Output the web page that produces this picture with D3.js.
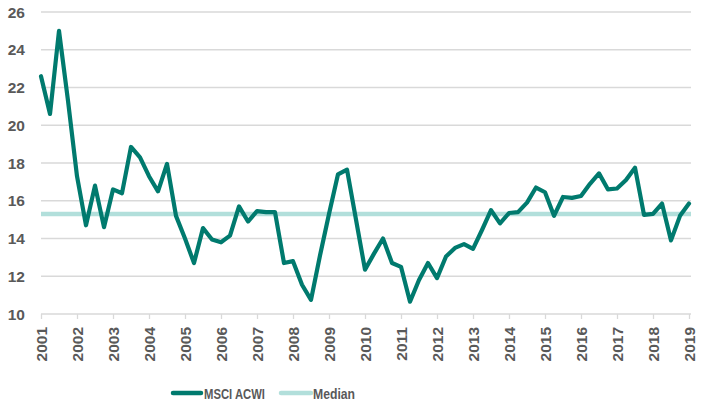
<!DOCTYPE html>
<html><head><meta charset="utf-8">
<script src="https://cdn.jsdelivr.net/npm/d3@7"></script>
<style>
html,body{margin:0;padding:0;background:#fff;}
svg{display:block;font-family:"Liberation Sans",Arial,sans-serif;}
</style></head>
<body><div id="chart"></div>
<script>
const years = [2001,2002,2003,2004,2005,2006,2007,2008,2009,2010,2011,2012,2013,2014,2015,2016,2017,2018,2019];
const yTicks = [10,12,14,16,18,20,22,24,26];
const seriesNames = ["MSCI ACWI","Median"];
// Quarterly values, 2001 Q1 .. 2019 Q1
const msciAcwi = [
 22.6,20.6,25.0,21.3,17.3,14.7,16.8,14.6,16.6,16.4,
 18.85,18.3,17.3,16.5,17.95,15.2,14.0,12.7,14.55,13.95,
 13.8,14.15,15.7,14.9,15.45,15.4,15.4,12.7,12.8,11.55,
 10.75,13.1,15.3,17.4,17.65,15.0,12.35,13.2,14.0,12.7,
 12.5,10.65,11.8,12.7,11.9,13.05,13.5,13.7,13.45,14.45,
 15.5,14.8,15.35,15.4,15.9,16.7,16.45,15.2,16.2,16.15,
 16.25,16.9,17.45,16.6,16.65,17.1,17.75,15.25,15.3,15.85,
 13.9,15.2,15.85
];
const medianValue = 15.3;

const W = 706, H = 411;
const svg = d3.select("#chart").append("svg").attr("width", W).attr("height", H);

const startYear = years[0], endYear = years[years.length-1];
const x = d3.scaleLinear().domain([startYear, endYear]).range([41, 689]);
const y = d3.scaleLinear().domain([10, 26]).range([314, 12]);
const xOf = i => x(startYear + i/4);

const textColor = "#595959", gridColor = "#d9d9d9";
const lineColor = "#007A6E", medianColor = "#B2DFDB";

// gridlines
svg.append("g").selectAll("line").data(yTicks.filter(t => t !== 10)).join("line")
  .attr("x1", 41).attr("x2", 691)
  .attr("y1", d => y(d)).attr("y2", d => y(d))
  .attr("stroke", gridColor).attr("stroke-width", 1.3);

// y labels
svg.append("g").selectAll("text").data(yTicks).join("text")
  .attr("x", 25).attr("y", d => y(d)).attr("dy", "0.36em")
  .attr("text-anchor", "end").attr("fill", textColor)
  .attr("font-size", 15.5).attr("font-weight", "bold")
  .text(d => d);

// x axis
const xAxis = d3.axisBottom(x).tickValues(years).tickFormat(d3.format("d")).tickSize(5).tickSizeOuter(0);
const gx = svg.append("g").attr("transform", `translate(0,${y(10)})`).call(xAxis);
gx.select(".domain").attr("stroke", gridColor).attr("stroke-width", 1.3).attr("d", `M41,0H691`);
gx.selectAll(".tick line").attr("stroke", gridColor).attr("stroke-width", 1.3);
gx.selectAll(".tick text")
  .attr("fill", textColor).attr("font-size", 15.5).attr("font-weight", "bold")
  .attr("font-family", "Liberation Sans, Arial, sans-serif")
  .attr("transform", "rotate(-90)")
  .attr("x", -13).attr("y", 0).attr("dy", "0.36em")
  .attr("text-anchor", "end");

// median line
svg.append("line")
  .attr("x1", xOf(0)).attr("x2", xOf(msciAcwi.length-1) + 2)
  .attr("y1", y(medianValue)).attr("y2", y(medianValue))
  .attr("stroke", medianColor).attr("stroke-width", 4.5);

// series line
const line = d3.line().x((d,i) => xOf(i)).y(d => y(d));
svg.append("path").datum(msciAcwi)
  .attr("d", line).attr("fill", "none")
  .attr("stroke", lineColor).attr("stroke-width", 4.2)
  .attr("stroke-linejoin", "round").attr("stroke-linecap", "round");

// legend
const legendItems = [
  {name: seriesNames[0], color: lineColor, x1: 173, x2: 201, tx: 204, w: 61},
  {name: seriesNames[1], color: medianColor, x1: 281, x2: 311, tx: 313, w: 42}
];
const lg = svg.append("g");
legendItems.forEach(it => {
  lg.append("line").attr("x1", it.x1).attr("x2", it.x2).attr("y1", 393).attr("y2", 393)
    .attr("stroke", it.color).attr("stroke-width", 4.5).attr("stroke-linecap", "round");
  lg.append("text").attr("x", it.tx).attr("y", 393).attr("dy", "0.36em")
    .attr("fill", textColor).attr("font-size", 15.5).attr("font-weight", "bold")
    .attr("textLength", it.w).attr("lengthAdjust", "spacingAndGlyphs")
    .text(it.name);
});
</script>
</body></html>
